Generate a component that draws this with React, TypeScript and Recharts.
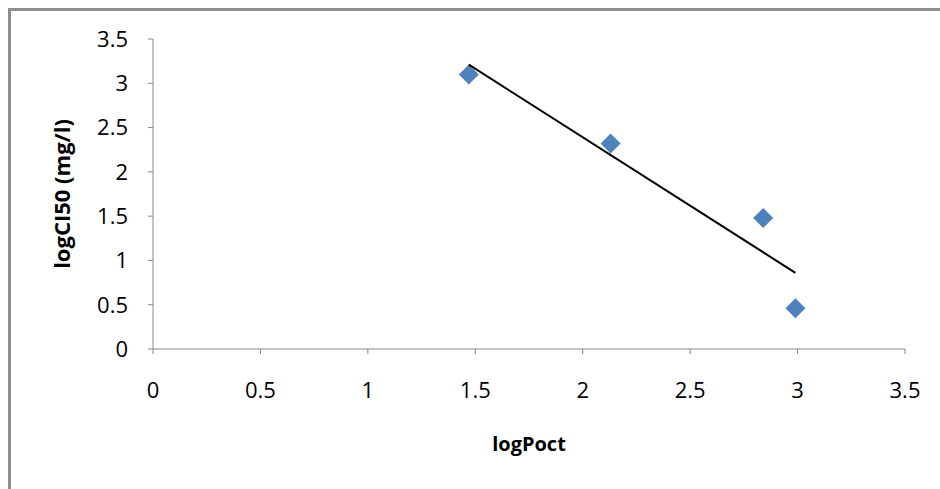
import React from 'react';
import { ScatterChart, Scatter, XAxis, YAxis } from 'recharts';

// measured points (logPoct vs logCI50)
const logPoct = [1.47, 2.13, 2.84, 2.99];
const logCI50 = [3.1, 2.32, 1.48, 0.46];

// linear trendline end points
const trendX = [1.47, 2.99];
const trendY = [3.21, 0.86];

const axisTicks = [0, 0.5, 1, 1.5, 2, 2.5, 3, 3.5];

const points = logPoct.map((x, i) => ({ x, y: logCI50[i] }));
const trend = trendX.map((x, i) => ({ x, y: trendY[i] }));

const FONT = '"Open Sans", "Noto Sans", sans-serif';
const AXIS_GRAY = '#868686';

const Diamond = (props: any) => {
  const { cx, cy } = props;
  if (cx == null || cy == null) return <g />;
  const r = 10;
  return (
    <polygon
      points={`${cx},${cy - r} ${cx + r},${cy} ${cx},${cy + r} ${cx - r},${cy}`}
      fill="#4F81BD"
    />
  );
};

const NoDot = () => <g />;

const App: React.FC = () => {
  return (
    <div style={{ position: 'absolute', left: 0, top: 0, width: 940, height: 489, background: '#fff', overflow: 'hidden' }}>
      <div
        style={{
          position: 'absolute',
          left: 8,
          top: 8,
          width: 960,
          height: 520,
          border: '3px solid #8e8e8e',
          boxSizing: 'border-box',
        }}
      />
      <ScatterChart
        width={940}
        height={489}
        margin={{ top: 39, right: 35, bottom: 0, left: 0 }}
        style={{ position: 'absolute', left: 0, top: 0 }}
      >
        <XAxis
          type="number"
          dataKey="x"
          domain={[0, 3.5]}
          ticks={axisTicks}
          height={140}
          stroke={AXIS_GRAY}
          tickSize={5}
          tickMargin={28}
          fontSize={22}
          tick={{ fill: '#000', fontSize: 22, fontFamily: FONT }}
          label={{
            value: 'logPoct',
            position: 'insideTop',
            offset: 88,
            style: { fill: '#000', fontSize: 20, fontWeight: 'bold', fontFamily: FONT },
          }}
        />
        <YAxis
          type="number"
          dataKey="y"
          domain={[0, 3.5]}
          ticks={axisTicks}
          width={153}
          stroke={AXIS_GRAY}
          tickSize={5}
          tickMargin={20}
          fontSize={22}
          tick={{ fill: '#000', fontSize: 22, fontFamily: FONT }}
          label={{
            value: 'logCI50 (mg/l)',
            angle: -90,
            position: 'insideLeft',
            offset: 62,
            style: { fill: '#000', fontSize: 22, fontWeight: 'bold', fontFamily: FONT, textAnchor: 'middle' },
          }}
        />
        <Scatter data={points} shape={<Diamond />} isAnimationActive={false} />
        <Scatter
          data={trend}
          line={{ stroke: '#000', strokeWidth: 2 }}
          shape={<NoDot />}
          isAnimationActive={false}
        />
      </ScatterChart>
    </div>
  );
};

export default App;
